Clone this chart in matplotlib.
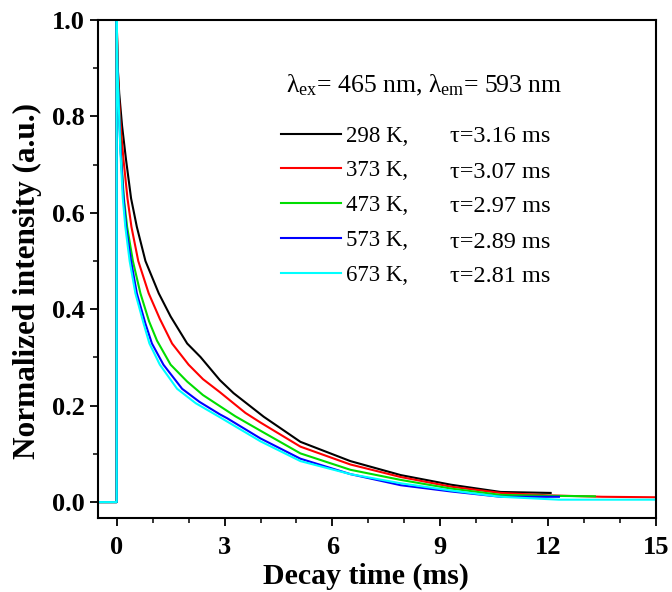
import numpy as np
import matplotlib
matplotlib.use("Agg")
import matplotlib.pyplot as plt
from matplotlib.lines import Line2D

plt.rcParams['font.family'] = ['Liberation Serif', 'DejaVu Serif']
plt.rcParams['mathtext.fontset'] = 'custom'
plt.rcParams['mathtext.rm'] = 'Liberation Serif'
plt.rcParams['mathtext.it'] = 'Liberation Serif:italic'

# decay curves (time in ms, normalized intensity)
# each starts with the flat baseline before the pulse and the jump to 1.0
t_298 = [-0.6, 0, 0, 0.03, 0.07, 0.15, 0.26, 0.4, 0.56, 0.8, 1.17, 1.5, 1.96, 2.33, 2.87, 3.25,
         4.09, 5.11, 6.5, 7.9, 9.3, 10.68, 12.07]
i_298 = [0, 0, 1.0, 0.9, 0.848, 0.78, 0.71, 0.63, 0.571, 0.50, 0.433, 0.385, 0.329, 0.301, 0.253, 0.226,
         0.177, 0.125, 0.085, 0.056, 0.036, 0.021, 0.019]

t_373 = [-0.6, 0, 0, 0.03, 0.06, 0.12, 0.19, 0.3, 0.41, 0.6, 0.89, 1.2, 1.54, 2.0, 2.4, 2.87, 3.58,
         4.0, 5.11, 6.5, 7.9, 9.3, 10.68, 12.0, 13.5, 15.0]
i_373 = [0, 0, 1.0, 0.9, 0.84, 0.77, 0.71, 0.63, 0.571, 0.50, 0.433, 0.38, 0.329, 0.285, 0.255, 0.228, 0.185,
         0.165, 0.115, 0.078, 0.052, 0.032, 0.019, 0.014, 0.011, 0.010]

t_473 = [-0.6, 0, 0, 0.02, 0.05, 0.12, 0.2, 0.29, 0.45, 0.66, 0.9, 1.12, 1.5, 1.96, 2.4, 2.87, 3.3,
         4.0, 5.11, 6.5, 7.9, 9.3, 10.68, 12.0, 13.3]
i_473 = [0, 0, 1.0, 0.9, 0.84, 0.72, 0.63, 0.571, 0.50, 0.433, 0.375, 0.335, 0.285, 0.25, 0.222, 0.199, 0.178,
         0.148, 0.101, 0.067, 0.046, 0.028, 0.015, 0.013, 0.012]

t_573 = [-0.6, 0, 0, 0.02, 0.05, 0.1, 0.18, 0.26, 0.4, 0.56, 0.8, 0.98, 1.3, 1.82, 2.3, 2.87, 3.07,
         4.0, 5.11, 6.5, 7.9, 9.3, 10.68, 12.3]
i_573 = [0, 0, 1.0, 0.9, 0.84, 0.74, 0.64, 0.571, 0.50, 0.433, 0.37, 0.329, 0.285, 0.235, 0.208, 0.182, 0.174,
         0.132, 0.09, 0.058, 0.035, 0.022, 0.011, 0.011]

t_673 = [-0.6, 0, 0, 0.02, 0.05, 0.1, 0.17, 0.24, 0.36, 0.52, 0.75, 0.91, 1.2, 1.68, 2.2, 2.87,
         4.0, 5.11, 6.5, 7.9, 9.3, 10.68, 12.3, 15.0]
i_673 = [0, 0, 1.0, 0.9, 0.84, 0.73, 0.63, 0.571, 0.50, 0.433, 0.37, 0.329, 0.285, 0.235, 0.205, 0.176,
         0.126, 0.085, 0.058, 0.039, 0.024, 0.011, 0.005, 0.005]

temps = ['298 K,', '373 K,', '473 K,', '573 K,', '673 K,']
taus = ['τ=3.16 ms', 'τ=3.07 ms', 'τ=2.97 ms', 'τ=2.89 ms', 'τ=2.81 ms']
colors = ['black', '#ff0000', '#00dd00', '#0000ff', '#00ffff']

times = [t_298, t_373, t_473, t_573, t_673]
vals = [i_298, i_373, i_473, i_573, i_673]

fig = plt.figure(figsize=(6.72, 5.92), dpi=100)
ax = fig.add_axes([98/672, 1-518/592, 558/672, 498/592])

for t, v, c in zip(times, vals, colors):
    ax.plot(t, v, color=c, lw=1.5)

ax.set_xlim(-0.52, 15)
ax.set_ylim(-0.033, 1.0)
ax.set_xticks([0, 3, 6, 9, 12, 15])
ax.set_xticks(np.arange(0, 16, 1), minor=True)
ax.set_yticks([0.0, 0.2, 0.4, 0.6, 0.8, 1.0])
ax.set_yticks(np.arange(0, 1.01, 0.1), minor=True)
ax.set_yticklabels(['0.0', '0.2', '0.4', '0.6', '0.8', '1.0'])
ax.tick_params(which='major', direction='out', length=6, width=1.3, labelsize=19)
ax.tick_params(axis='x', which='major', pad=7)
ax.tick_params(which='minor', direction='out', length=3.5, width=1.1)
for lab in ax.get_xticklabels() + ax.get_yticklabels():
    lab.set_fontweight('bold')
for s in ax.spines.values():
    s.set_linewidth(1.5)

ax.set_xlabel('Decay time (ms)', fontsize=21.5, fontweight='bold')
ax.xaxis.set_label_coords(0.481, -0.09)
ax.set_ylabel('Normalized intensity (a.u.)', fontsize=22.5, fontweight='bold')
ax.yaxis.set_label_coords(-0.1, 0.475)

ax.text(0.585, 0.869, 'λ$_{\\mathrm{ex}}$= 465 nm, λ$_{\\mathrm{em}}$= 593 nm',
        transform=ax.transAxes, ha='center', va='center', fontsize=18.5)

handles = [Line2D([], [], color=c, lw=1.5) for c in colors]
ax.legend(handles, temps, loc='upper left', bbox_to_anchor=(0.328, 0.788),
          frameon=False, fontsize=16.5, handlelength=2.6, handletextpad=0.25,
          labelspacing=0.6, borderpad=0, borderaxespad=0)

# lifetime column, one row per legend entry
for k, s in enumerate(taus):
    y = (518 - (137 + 35 * k)) / 498
    ax.text(0.631, y, s, transform=ax.transAxes, ha='left', va='center', fontsize=17.5)

fig.savefig('out.png', dpi=100)
